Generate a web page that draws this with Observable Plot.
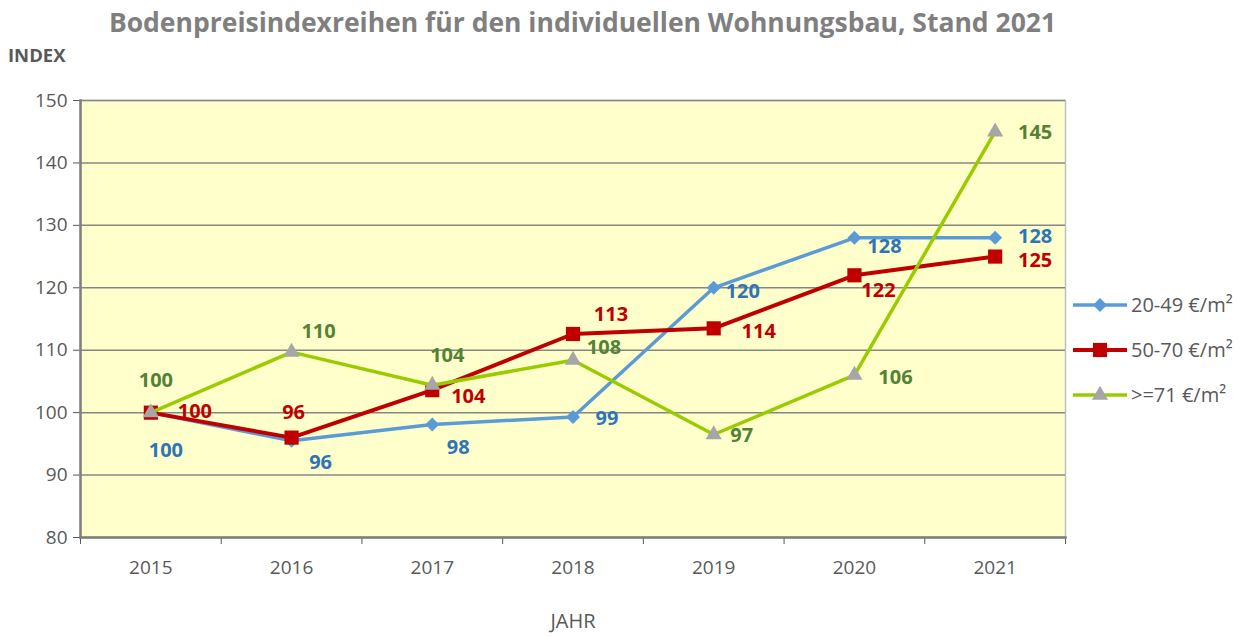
<!DOCTYPE html>
<html><head><meta charset="utf-8">
<script src="https://cdn.jsdelivr.net/npm/d3@7"></script>
<script src="https://cdn.jsdelivr.net/npm/@observablehq/plot@0.6"></script>
<style>
body{margin:0;width:1249px;height:636px;position:relative;background:#fff;font-family:"Open Sans",sans-serif;overflow:hidden}
#title{position:absolute;top:4px;left:0;width:1165px;text-align:center;font-weight:bold;font-size:26.5px;color:#7f7f7f;white-space:nowrap}
#ylab{position:absolute;left:8px;top:42px;font-weight:bold;font-size:18.5px;color:#595959}
#chart{position:absolute;left:0;top:60px}
#chart svg g[aria-label="x-axis label"] text{font-size:20px}
#legend{position:absolute;left:1072px;top:282px;font-size:20px;color:#595959}
#legend .row{height:45px;display:flex;align-items:center;white-space:nowrap}
#legend svg{margin-right:3px}
</style></head><body>
<div id="title">Bodenpreisindexreihen für den individuellen Wohnungsbau, Stand 2021</div>
<div id="ylab">INDEX</div>
<div id="chart"></div>
<div id="legend"></div>
<script>
const years = [2015, 2016, 2017, 2018, 2019, 2020, 2021];
const seriesNames = ["20-49 €/m²", "50-70 €/m²", ">=71 €/m²"];
const valuesA = [100, 95.5, 98.1, 99.3, 120, 128, 128];
const valuesB = [100, 96, 103.6, 112.6, 113.5, 122, 125];
const valuesC = [100, 109.7, 104.4, 108.4, 96.5, 106, 145];
const yTicks = [80, 90, 100, 110, 120, 130, 140, 150];
const xTitle = "JAHR";

// label placement offsets (px) for the value labels
const labelDxA = [15, 29, 26, 34, 29, 30, 40];
const labelDyA = [38, 22, 23, 2, 4, 9, -1];
const labelDxB = [44, 2, 36, 38, 45, 24, 40];
const labelDyB = [-1, -25, 6, -19, 3, 15, 4];
const labelDxC = [5, 27, 15, 31, 28, 41, 40];
const labelDyC = [-32, -20, -30, -13, 1, 2, 1];

const series = [
  {name: seriesNames[0], values: valuesA, dx: labelDxA, dy: labelDyA, line: "#5B9BD5", mark: "#5B9BD5", text: "#2E75B6", symbol: "diamond2", r: 6.3, width: 3.5},
  {name: seriesNames[1], values: valuesB, dx: labelDxB, dy: labelDyB, line: "#C00000", mark: "#C00000", text: "#C00000", symbol: "square", r: 8, width: 4},
  {name: seriesNames[2], values: valuesC, dx: labelDxC, dy: labelDyC, line: "#99CC00", mark: "#A6A6A6", text: "#548235", symbol: "triangle", r: 6, width: 3.5}
];

const bounds = years.map(y => y - 0.5).concat([years[years.length - 1] + 0.5]);

const marks = [
  Plot.frame({fill: "#FFFFCC", stroke: "#BFBFBF", strokeWidth: 1.5}),
  Plot.gridY(yTicks, {stroke: "#868686", strokeOpacity: 1, strokeWidth: 1.5}),
  Plot.axisY(yTicks, {tickSize: 7, tickPadding: 6, fontSize: 19, color: "#595959", stroke: "#595959", label: null}),
  Plot.axisX(bounds, {tickSize: 7, tickFormat: () => "", label: null, stroke: "#595959"}),
  Plot.axisX(years, {tickSize: 0, tickPadding: 23, fontSize: 19, tickFormat: d => String(d), color: "#595959", label: xTitle, labelAnchor: "center", labelOffset: 90, labelArrow: "none"}),
  Plot.frame({anchor: "left", stroke: "#7F7F7F", strokeWidth: 2.5}),
  Plot.frame({anchor: "bottom", stroke: "#7F7F7F", strokeWidth: 2.5})
];

for (const s of series) {
  const rows = years.map((year, i) => ({year, value: s.values[i]}));
  marks.push(Plot.line(rows, {x: "year", y: "value", stroke: s.line, strokeWidth: s.width}));
  marks.push(Plot.dot(rows, {x: "year", y: "value", symbol: s.symbol, r: s.r, fill: s.mark, stroke: "none"}));
  rows.forEach((row, i) => {
    marks.push(Plot.text([row], {x: "year", y: "value", text: d => String(Math.round(d.value)), dx: s.dx[i], dy: s.dy[i], fill: s.text, fontWeight: "bold", fontSize: 20}));
  });
}

const chart = Plot.plot({
  width: 1249,
  height: 576,
  marginLeft: 80,
  marginRight: 184,
  marginTop: 40,
  marginBottom: 99,
  style: {fontFamily: "'Open Sans', sans-serif", background: "transparent", color: "#595959"},
  x: {domain: [bounds[0], bounds[bounds.length - 1]]},
  y: {domain: [yTicks[0], yTicks[yTicks.length - 1]]},
  marks
});
document.getElementById("chart").appendChild(chart);

// legend
const legend = d3.select("#legend");
for (const s of series) {
  const row = legend.append("div").attr("class", "row");
  const svg = row.append("svg").attr("width", 56).attr("height", 20);
  svg.append("line").attr("x1", 1).attr("x2", 55).attr("y1", 10).attr("y2", 10).attr("stroke", s.line).attr("stroke-width", s.width);
  const sym = {diamond2: d3.symbolDiamond2, square: d3.symbolSquare, triangle: d3.symbolTriangle}[s.symbol];
  svg.append("path").attr("transform", "translate(28,10)").attr("d", d3.symbol(sym, Math.PI * s.r * s.r)()).attr("fill", s.mark);
  row.append("span").text(s.name);
}
</script>
</body></html>
